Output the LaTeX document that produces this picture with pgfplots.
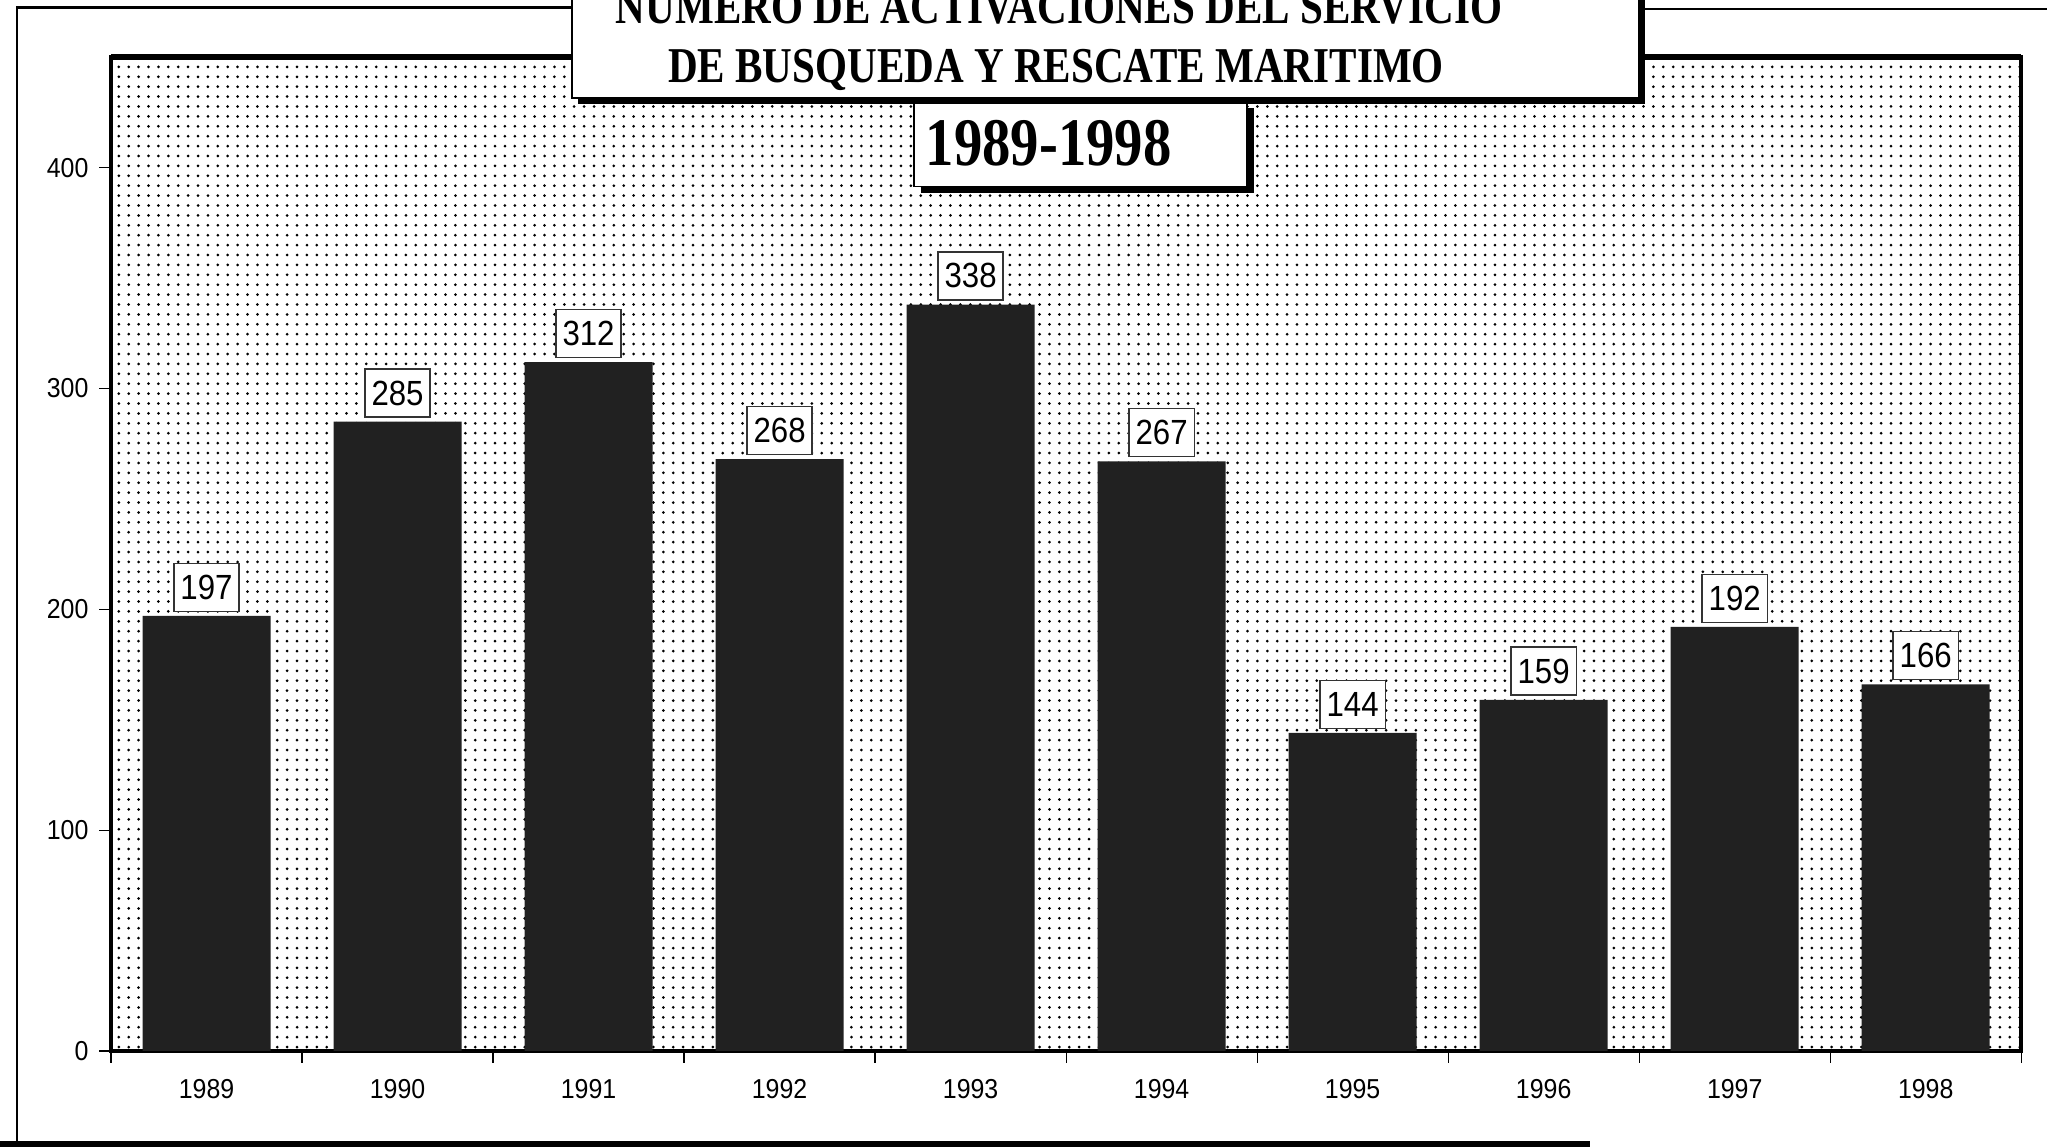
\documentclass[border=0pt]{standalone}
\usepackage{pgfplots}
\pgfplotsset{compat=1.18}
\usepackage{graphicx}
\usepackage{fontspec}
\setmainfont{Liberation Serif}
\newfontfamily\arial{Liberation Sans}
\usetikzlibrary{patterns.meta}
\newcommand\vs[1]{\scalebox{1}[1.1]{#1}}
\begin{document}
\begin{tikzpicture}[x=1pt,y=1pt]
\path[use as bounding box] (0,0) rectangle (682.3,382);
\begin{axis}[
  at={(37pt,31.7pt)}, anchor=south west,
  scale only axis, width=636.7pt, height=331.2pt,
  xmin=-0.5, xmax=9.5, ymin=0, ymax=450,
  ybar,
  axis background/.style={pattern={Dots[distance=3.3pt,radius=0.5pt]}},
  axis line style={line width=1.2pt},
  tick align=outside, major tick length=4pt,
  tick style={line width=0.4pt, black},
  ytick={0,100,200,300,400},
  yticklabels={\vs{0},\vs{100},\vs{200},\vs{300},\vs{400}},
  yticklabel style={font=\arial\fontsize{8.3}{10}\selectfont},
  xtick={-0.5,0.5,1.5,2.5,3.5,4.5,5.5,6.5,7.5,8.5,9.5},
  x tick label as interval,
  xticklabels={\vs{1989},\vs{1990},\vs{1991},\vs{1992},\vs{1993},\vs{1994},\vs{1995},\vs{1996},\vs{1997},\vs{1998}},
  xticklabel style={font=\arial\fontsize{8.3}{10}\selectfont, yshift=-2pt},
  xtick pos=bottom, ytick pos=left,
]
\addplot[ybar, bar width=0.67, fill=black!87, draw=none,
  nodes near coords={\scalebox{1}[1.12]{\pgfmathprintnumber[assume math mode=true]{\pgfplotspointmeta}}},
  nodes near coords style={draw=black!80, line width=0.5pt, fill=white,
    font=\arial\fontsize{10.4}{12}\selectfont, inner xsep=2.2pt, inner ysep=0pt,
    minimum height=16pt, anchor=south, yshift=1.3pt}]
coordinates {(0,197) (1,285) (2,312) (3,268) (4,338) (5,267) (6,144) (7,159) (8,192) (9,166)};
\end{axis}
% plot area top border (thicker)
\draw[line width=2pt] (37,362.9) -- (673.7,362.9);
% box 2
\fill[black] (306.9,317.6) rectangle (417.9,346);
\draw[fill=white, line width=0.6pt] (304.7,319.8) rectangle (415.7,348);
\node[anchor=base, font=\bfseries\fontsize{18.9}{22}\selectfont] at (349.5,326.7) {\scalebox{1}[1.2]{1989-1998}};
% box 1
\fill[black] (192.8,347.2) rectangle (548.3,400);
\draw[fill=white, line width=0.6pt] (190.6,349.4) rectangle (546.1,400);
\node[anchor=base, font=\bfseries\fontsize{13.7}{16}\selectfont] at (353,374.2) {\scalebox{1}[1.22]{NUMERO DE ACTIVACIONES DEL SERVICIO}};
\node[anchor=base, font=\bfseries\fontsize{13.7}{16}\selectfont] at (352,354.6) {\scalebox{1}[1.22]{DE BUSQUEDA Y RESCATE MARITIMO}};
% outer frame
\draw[line width=0.8pt] (5.7,1) -- (5.7,379.5) -- (190.6,379.5);
\draw[line width=0.8pt] (546.1,379) -- (682.3,379);
\draw[line width=2pt] (0,0.6) -- (530,0.6);
\end{tikzpicture}
\end{document}
